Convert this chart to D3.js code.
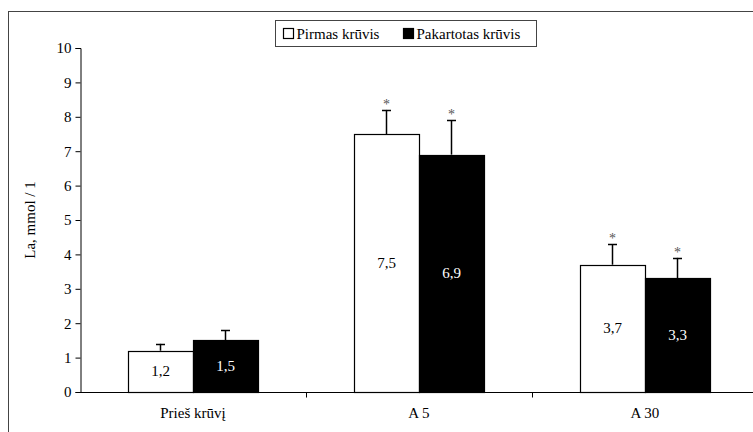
<!DOCTYPE html>
<html>
<head>
<meta charset="utf-8">
<script src="https://cdn.jsdelivr.net/npm/d3@7"></script>
<style>
  body { margin: 0; background: #fff; }
</style>
</head>
<body>
<div id="chart"></div>
<script>
var width = 753,
  height = 432,
  serif = "'Liberation Serif', 'DejaVu Serif', serif";

// data
var categories = ["Prieš krūvį", "A 5", "A 30"];
var seriesNames = ["Pirmas krūvis", "Pakartotas krūvis"];
var pirmas = [1.2, 7.5, 3.7];
var pakartotas = [1.5, 6.9, 3.3];
var pirmasErr = [0.2, 0.7, 0.6];
var pakartotasErr = [0.3, 1.0, 0.6];
var significant = [false, true, true];
var yTicks = [0, 1, 2, 3, 4, 5, 6, 7, 8, 9, 10];

var rows = [];
categories.forEach(function (c, i) {
  rows.push({ cat: c, s: 0, v: pirmas[i], e: pirmasErr[i], sig: significant[i] });
  rows.push({ cat: c, s: 1, v: pakartotas[i], e: pakartotasErr[i], sig: significant[i] });
});

var svg = d3.select("#chart")
  .append("svg")
  .attr("width", width)
  .attr("height", height)
  .attr("font-family", serif);

// outer frame (runs off the right and bottom)
svg.append("rect")
  .attr("x", 8.5).attr("y", 11.5)
  .attr("width", 800).attr("height", 500)
  .attr("fill", "none")
  .attr("stroke", "#444")
  .attr("stroke-width", 1);

var x = d3.scaleBand().domain(categories).range([80, 758]);
var xs = d3.scaleBand().domain([0, 1]).range([0, 130]);
var y = d3.scaleLinear().domain([0, 10]).range([392, 48]);

var fmt = function (v) { return String(v).replace(".", ","); };

// y axis
var yAxis = svg.append("g")
  .attr("transform", "translate(80.5,0)")
  .call(d3.axisLeft(y).tickValues(yTicks).tickSize(5).tickPadding(4).tickFormat(d3.format("d")));
yAxis.attr("font-family", serif).attr("font-size", 15);
yAxis.select(".domain").attr("stroke", "#000");
yAxis.selectAll("line").attr("stroke", "#000");
yAxis.selectAll("text")
  .style("font-family", serif)
  .style("font-size", "15px")
  .attr("fill", "#000");

// bars
var g = svg.append("g");
function barX(d) { return x(d.cat) + (x.bandwidth() - 130) / 2 + xs(d.s); }

// error bars (upward only)
g.selectAll(".err")
  .data(rows)
  .enter()
  .append("line")
  .attr("x1", function (d) { return barX(d) + xs.bandwidth() / 2; })
  .attr("x2", function (d) { return barX(d) + xs.bandwidth() / 2; })
  .attr("y1", function (d) { return y(d.v); })
  .attr("y2", function (d) { return y(d.v + d.e); })
  .attr("stroke", "#000")
  .attr("stroke-width", 1.5);
g.selectAll(".cap")
  .data(rows)
  .enter()
  .append("line")
  .attr("x1", function (d) { return barX(d) + xs.bandwidth() / 2 - 4.5; })
  .attr("x2", function (d) { return barX(d) + xs.bandwidth() / 2 + 4.5; })
  .attr("y1", function (d) { return Math.round(y(d.v + d.e)) + 0.5; })
  .attr("y2", function (d) { return Math.round(y(d.v + d.e)) + 0.5; })
  .attr("stroke", "#000")
  .attr("stroke-width", 1.5);

g.selectAll("rect.bar")
  .data(rows)
  .enter()
  .append("rect")
  .attr("class", "bar")
  .attr("x", function (d) { return Math.round(barX(d)) + 0.5; })
  .attr("y", function (d) { return Math.round(y(d.v)) + 0.5; })
  .attr("width", Math.round(xs.bandwidth()))
  .attr("height", function (d) { return Math.round(y(0)) - Math.round(y(d.v)); })
  .attr("fill", function (d) { return d.s === 0 ? "#fff" : "#000"; })
  .attr("stroke", "#000")
  .attr("stroke-width", 1.2);

// value labels
g.selectAll(".val")
  .data(rows)
  .enter()
  .append("text")
  .attr("x", function (d) { return barX(d) + xs.bandwidth() / 2; })
  .attr("y", function (d) { return (y(d.v) + y(0)) / 2 + 5; })
  .attr("text-anchor", "middle")
  .style("font-family", serif)
  .style("font-size", "15px")
  .attr("fill", function (d) { return d.s === 0 ? "#000" : "#fff"; })
  .text(function (d) { return fmt(d.v); });

// asterisks
g.selectAll(".sig")
  .data(rows.filter(function (d) { return d.sig; }))
  .enter()
  .append("text")
  .attr("x", function (d) { return barX(d) + xs.bandwidth() / 2; })
  .attr("y", function (d) { return y(d.v + d.e) - 1; })
  .attr("text-anchor", "middle")
  .style("font-family", serif)
  .style("font-size", "14px")
  .attr("fill", "#555")
  .text("*");

// x axis
var xAxis = svg.append("g")
  .attr("transform", "translate(0,392.5)");
xAxis.append("line")
  .attr("x1", 80).attr("x2", 758)
  .attr("stroke", "#000");
xAxis.selectAll(".tk")
  .data(categories.slice(1))
  .enter()
  .append("line")
  .attr("x1", function (d) { return Math.round(x(d)) + 0.5; })
  .attr("x2", function (d) { return Math.round(x(d)) + 0.5; })
  .attr("y1", 0).attr("y2", 5)
  .attr("stroke", "#000");
xAxis.selectAll(".lbl")
  .data(categories)
  .enter()
  .append("text")
  .attr("x", function (d) { return x(d) + x.bandwidth() / 2; })
  .attr("y", 25)
  .attr("text-anchor", "middle")
  .style("font-family", serif)
  .style("font-size", "15px")
  .text(function (d) { return d; });

// y axis title
svg.append("text")
  .attr("transform", "translate(35,220) rotate(-90)")
  .attr("text-anchor", "middle")
  .style("font-family", serif)
  .style("font-size", "15px")
  .text("La, mmol / 1");

// legend
var lg = svg.append("g").attr("transform", "translate(275.5,20.5)");
lg.append("rect")
  .attr("width", 261).attr("height", 26)
  .attr("fill", "#fff")
  .attr("stroke", "#444");
var items = lg.selectAll(".item")
  .data(seriesNames)
  .enter()
  .append("g")
  .attr("transform", function (d, i) { return "translate(" + (i === 0 ? 8 : 128) + ",0)"; });
items.append("rect")
  .attr("x", 0).attr("y", 8)
  .attr("width", 10).attr("height", 10)
  .attr("fill", function (d, i) { return i === 0 ? "#fff" : "#000"; })
  .attr("stroke", "#000")
  .attr("stroke-width", 1.2);
items.append("text")
  .attr("x", 13).attr("y", 18)
  .style("font-family", serif)
  .style("font-size", "15px")
  .text(function (d) { return d; });
</script>
</body>
</html>
